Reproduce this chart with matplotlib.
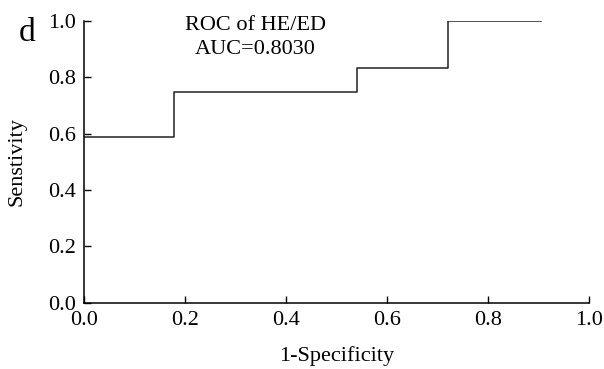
import matplotlib.pyplot as plt

# ROC curve points (1-specificity, sensitivity)
fpr = [0.0, 0.178, 0.178, 0.541, 0.541, 0.721, 0.721, 0.905]
tpr = [0.589, 0.589, 0.748, 0.748, 0.832, 0.832, 1.0, 1.0]
ticks = [0.0, 0.2, 0.4, 0.6, 0.8, 1.0]

plt.rcParams['font.family'] = ['Liberation Serif', 'DejaVu Serif']

fig = plt.figure(figsize=(6.04, 3.69), dpi=100)
ax = fig.add_axes([0.139, 0.180, 0.836, 0.763])

ax.plot(fpr, tpr, color='#222222', linewidth=1.1)

ax.set_xlim(0, 1)
ax.set_ylim(0, 1)
ax.set_xticks(ticks)
ax.set_yticks(ticks)
ax.set_xticklabels([f'{t:.1f}' for t in ticks])
ax.set_yticklabels([f'{t:.1f}' for t in ticks])
ax.tick_params(direction='in', length=5, width=1.0, labelsize=16, pad=6)
ax.tick_params(axis='y', pad=6)
for s in ['top', 'right']:
    ax.spines[s].set_visible(False)
for s in ['left', 'bottom']:
    ax.spines[s].set_linewidth(1.1)

ax.set_xlabel('1-Specificity', fontsize=16, labelpad=12)
ax.set_ylabel('Senstivity', fontsize=16, labelpad=15)

ax.text(0.34, 0.94, 'ROC of HE/ED\nAUC=0.8030', fontsize=16, ha='center', va='center',
        linespacing=1.35, transform=ax.transAxes)
fig.text(0.045, 0.912, 'd', fontsize=24, ha='center', va='center')

fig.savefig('out.png', dpi=100)
